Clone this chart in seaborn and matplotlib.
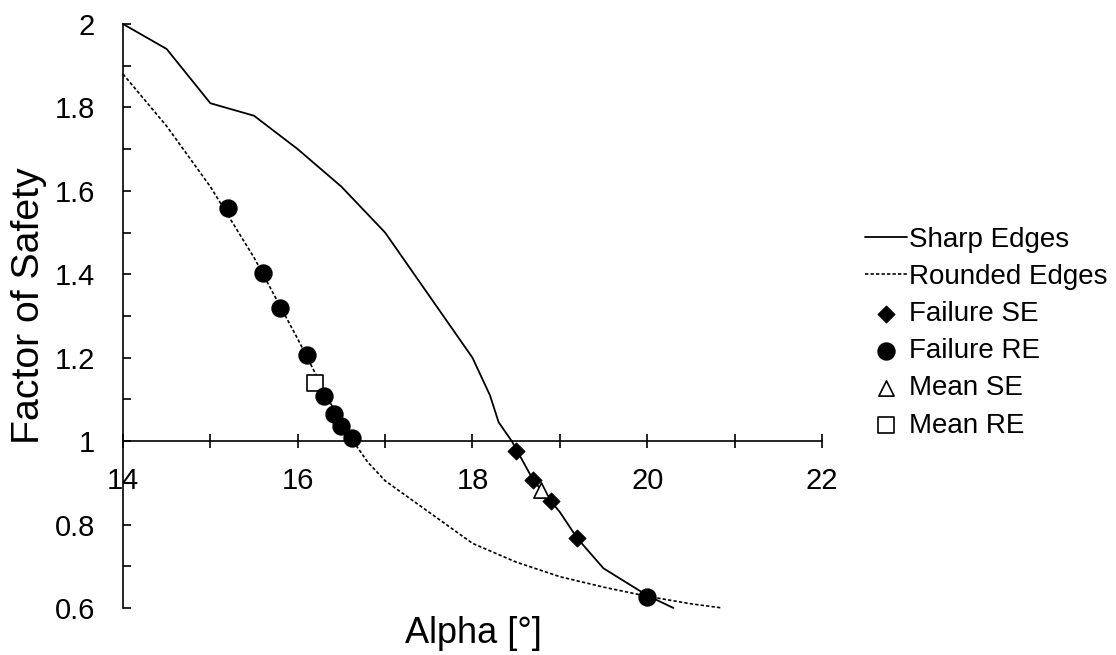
import numpy as np
import pandas as pd
import seaborn as sns
import matplotlib.pyplot as plt
from matplotlib.ticker import MultipleLocator, FuncFormatter

# Sharp edges curve (solid)
sharp_x = [14.0, 14.5, 15.0, 15.5, 16.0, 16.5, 17.0, 17.5, 18.0, 18.2, 18.3, 18.45, 18.7, 19.0, 19.2, 19.5, 20.0, 20.3]
sharp_y = [2.0, 1.94, 1.81, 1.78, 1.70, 1.61, 1.50, 1.35, 1.20, 1.11, 1.045, 1.0, 0.905, 0.83, 0.767, 0.695, 0.63, 0.60]

# Rounded edges curve (dotted)
round_x = [14.0, 14.5, 15.0, 15.5, 16.0, 16.5, 16.8, 17.0, 17.5, 18.0, 18.5, 19.0, 19.5, 20.0, 20.5, 20.86]
round_y = [1.88, 1.755, 1.61, 1.44, 1.245, 1.04, 0.95, 0.905, 0.83, 0.755, 0.71, 0.675, 0.65, 0.628, 0.61, 0.60]

# failure points
fail_se_x = [18.5, 18.69, 18.9, 19.2]
fail_se_y = [0.976, 0.906, 0.857, 0.767]
fail_re_x = [15.2, 15.6, 15.8, 16.11, 16.3, 16.41, 16.5, 16.62, 20.0]
fail_re_y = [1.559, 1.402, 1.318, 1.206, 1.109, 1.066, 1.036, 1.008, 0.626]

# means
mean_se_x = [18.79]
mean_se_y = [0.882]
mean_re_x = [16.2]
mean_re_y = [1.14]

sns.set_style('white')
plt.rcParams['font.family'] = ['Liberation Sans', 'DejaVu Sans']
plt.rcParams['text.color'] = 'black'
plt.rcParams['axes.labelcolor'] = 'black'
plt.rcParams['xtick.color'] = 'black'
plt.rcParams['ytick.color'] = 'black'

fig = plt.figure(figsize=(11.16, 6.55), dpi=100)
ax = fig.add_axes([0.1102, 0.0718, 0.6263, 0.8916])

sns.lineplot(x=sharp_x, y=sharp_y, ax=ax, sort=False, color='black', lw=1.3,
             label='Sharp Edges', clip_on=False)
sns.lineplot(x=round_x, y=round_y, ax=ax, sort=False, color='black', lw=1.2,
             linestyle=(0, (2.0, 1.3)), label='Rounded Edges', clip_on=False)

sns.scatterplot(x=fail_se_x, y=fail_se_y, ax=ax, marker='D', s=75, color='black',
                edgecolor='black', label='Failure SE', zorder=3, clip_on=False)
sns.scatterplot(x=fail_re_x, y=fail_re_y, ax=ax, marker='o', s=150, color='black',
                edgecolor='black', label='Failure RE', zorder=3, clip_on=False)
sns.scatterplot(x=mean_se_x, y=mean_se_y, ax=ax, marker='^', s=120, color='white',
                edgecolor='black', linewidth=1.2, label='Mean SE', zorder=4, clip_on=False)
sns.scatterplot(x=mean_re_x, y=mean_re_y, ax=ax, marker='s', s=130, color='white',
                edgecolor='black', linewidth=1.2, label='Mean RE', zorder=2, clip_on=False)

ax.set_xlim(14, 22)
ax.set_ylim(0.6, 2)

# x axis crosses at y = 1
ax.spines['bottom'].set_position(('data', 1))
ax.spines['top'].set_visible(False)
ax.spines['right'].set_visible(False)
for side in ['left', 'bottom']:
    ax.spines[side].set_color('black')
    ax.spines[side].set_linewidth(1.2)

ax.xaxis.set_major_locator(MultipleLocator(2))
ax.xaxis.set_minor_locator(MultipleLocator(1))
ax.yaxis.set_major_locator(MultipleLocator(0.2))
ax.yaxis.set_minor_locator(MultipleLocator(0.1))
ax.yaxis.set_major_formatter(FuncFormatter(lambda v, p: f'{round(v, 2):g}'))

ax.tick_params(axis='x', which='both', direction='inout', length=9.5, width=1.2,
               bottom=True, labelsize=21, pad=14)
ax.tick_params(axis='y', which='both', direction='in', length=5.5, width=1.2,
               left=True, labelsize=21, pad=20)

ax.set_xlabel('Alpha [°]', fontsize=26, va='center')
ax.xaxis.set_label_coords(0.5007, -0.043)
ax.set_ylabel('Factor of Safety', fontsize=28.3, va='center')
ax.yaxis.set_label_coords(-0.1345, 0.518)

ax.legend(loc='upper left', bbox_to_anchor=(865 / 1116, (655 - 227) / 655),
          bbox_transform=fig.transFigure, frameon=False, fontsize=20,
          borderpad=0, borderaxespad=0, handlelength=1.5, handletextpad=0.1,
          labelspacing=0.4)

fig.savefig('out.png', dpi=100)
